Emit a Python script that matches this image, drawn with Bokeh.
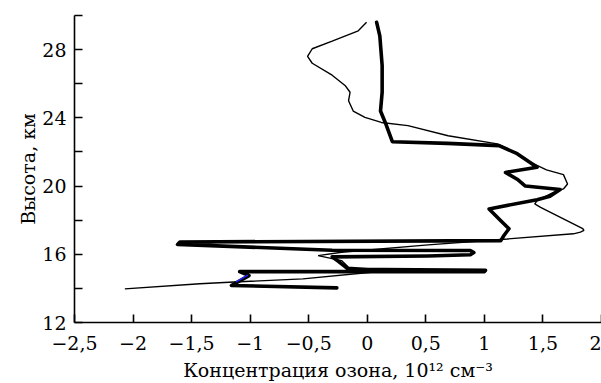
from bokeh.plotting import figure
from bokeh.models import FixedTicker, Range1d
from bokeh.embed import file_html
from bokeh.resources import INLINE

# --- data ---
thin_x = [-0.006, -0.077, -0.30, -0.47, -0.51, -0.47, -0.30, -0.19, -0.147, -0.16, -0.12, -0.02,
          0.12, 0.347, 0.69, 1.11, 1.2, 1.364, 1.53, 1.675, 1.71, 1.675, 1.59, 1.45, 1.43, 1.48,
          1.84, 1.85, 1.82, 1.76, 1.195, 0.52, -0.22, -0.42, -0.22, -0.16, 0.036, 0.15, 0.036,
          -0.55, -1.18, -1.43, -2.07]
thin_y = [29.6, 29.1, 28.5, 28.05, 27.6, 27.2, 26.5, 25.9, 25.5, 25.0, 24.4, 24.03,
          23.73, 23.54, 22.95, 22.47, 22.2, 21.49, 20.95, 20.67, 20.12, 19.83, 19.63, 19.15, 18.95, 18.75,
          17.5, 17.4, 17.3, 17.2, 16.9, 16.55, 16.12, 15.92, 15.63, 15.24, 15.14, 15.05, 14.95,
          14.56, 14.36, 14.27, 13.97]

thick_x = [0.08, 0.107, 0.127, 0.127, 0.113, 0.155, 0.214, 0.686, 1.125, 1.28, 1.45, 1.18, 1.28,
           1.35, 1.647, 1.56, 1.45, 1.04, 1.14, 1.21, 1.167, 1.14, -1.6, -1.62, -0.3, 0.88, 0.91,
           0.88, 0.517, -0.3, -0.25, -0.16, 1.01, 1.0, -1.09, -1.01, -1.16, -0.26]
thick_y = [29.6, 28.8, 27.06, 25.5, 24.4, 23.7, 22.6, 22.5, 22.37, 21.9, 21.1, 20.8, 20.4,
           20.0, 19.8, 19.4, 19.2, 18.66, 17.97, 17.5, 17.1, 16.8, 16.72, 16.58, 16.24, 16.22, 16.1,
           15.97, 15.9, 15.85, 15.6, 15.12, 15.06, 14.98, 14.98, 14.75, 14.17, 14.03]

blue_x = [-1.02, -1.12]
blue_y = [14.78, 14.38]

x_ticks = [-2.5, -2.0, -1.5, -1.0, -0.5, 0.0, 0.5, 1.0, 1.5, 2.0]
x_tick_labels = ["−2,5", "−2", "−1,5", "−1", "−0,5", "0", "0,5", "1", "1,5", "2"]
y_ticks = [12, 14, 16, 18, 20, 22, 24, 26, 28, 30]
y_tick_labels = ["12", "", "16", "", "20", "", "24", "", "28", ""]

FONT = "DejaVu Serif"

p = figure(width=601, height=383, output_backend="svg", toolbar_location=None,
           x_range=Range1d(-2.5, 2.0), y_range=Range1d(12, 30),
           min_border_left=74, min_border_right=0, min_border_top=15, min_border_bottom=61)
p.outline_line_color = None
p.background_fill_color = "white"
p.border_fill_color = "white"
p.xgrid.grid_line_color = None
p.ygrid.grid_line_color = None

p.line(thin_x, thin_y, line_color="black", line_width=1.4)
p.line(thick_x, thick_y, line_color="black", line_width=3.6, line_join="round", line_cap="round")
p.line(blue_x, blue_y, line_color="#2020ff", line_width=1.5)

for ax in (p.xaxis[0], p.yaxis[0]):
    ax.axis_line_width = 1.6
    ax.axis_line_color = "black"
    ax.major_tick_line_width = 1.6
    ax.major_tick_line_color = "black"
    ax.major_tick_in = 8
    ax.major_tick_out = 0
    ax.minor_tick_in = 0
    ax.minor_tick_out = 0
    ax.major_label_text_font = FONT
    ax.major_label_text_font_size = "19px"
    ax.major_label_text_color = "black"
    ax.axis_label_text_font = FONT
    ax.axis_label_text_font_style = "normal"
    ax.axis_label_text_font_size = "19px"
    ax.axis_label_text_color = "black"

p.xaxis.major_label_standoff = 13
p.yaxis.major_label_standoff = 8

p.xaxis.ticker = FixedTicker(ticks=x_ticks)
p.xaxis.major_label_overrides = {t: s for t, s in zip(x_ticks, x_tick_labels)}
p.yaxis.ticker = FixedTicker(ticks=y_ticks)
p.yaxis.major_label_overrides = {t: s for t, s in zip(y_ticks, y_tick_labels)}

p.yaxis.axis_label = "Высота, км"
p.yaxis.axis_label_standoff = 0
p.xaxis.axis_label = "Концентрация озона, 10¹² см⁻³"
p.xaxis.axis_label_standoff = 6

open("out.html", "w").write(file_html(p, INLINE))
